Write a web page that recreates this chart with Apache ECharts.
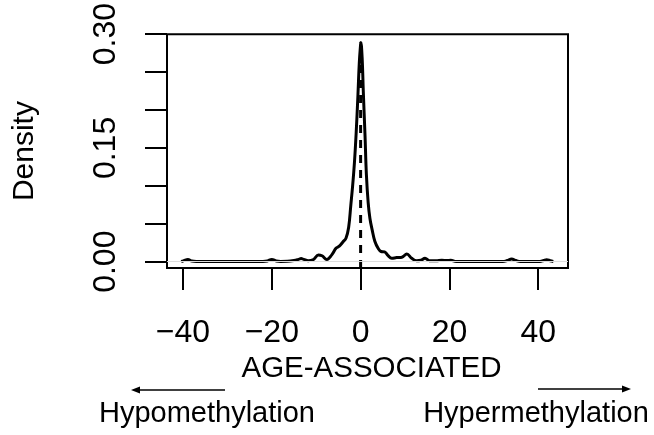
<!DOCTYPE html>
<html>
<head>
<meta charset="utf-8">
<script src="https://cdn.jsdelivr.net/npm/echarts@6/dist/echarts.min.js"></script>
<style>html,body{margin:0;padding:0;background:#fff;}#c{width:654px;height:435px;}</style>
</head>
<body>
<div id="c"></div>
<script>
// Density curve
const xValues = [-40.4,-39.8,-38.9,-38.0,-37.0,-30,-22,-21.0,-20.0,-19.0,-18.0,-16.5,-15.0,-14.0,-13.4,-12.8,-11.8,-10.6,-9.5,-8.7,-7.6,-6.5,-5.5,-4.8,-4.0,-3.3,-2.7,-2.2,-1.8,-1.4,-1.0,-0.6,-0.3,0.0,0.05,0.35,0.6,1.0,1.3,1.7,2.1,2.6,3.2,4.0,4.6,5.4,6.2,7.0,8.1,9.3,10.4,11.5,12.6,13.6,14.5,15.5,17.0,18.3,19.4,20.3,21.5,32.0,33.0,34.0,35.0,36.0,40.4,41.2,41.9,42.7,43.4];
const densityValues = [0.0003,0.0015,0.003,0.0008,0.0004,0.0004,0.0004,0.001,0.003,0.001,0.0004,0.0005,0.0015,0.003,0.0042,0.003,0.0013,0.003,0.009,0.0078,0.003,0.009,0.018,0.0205,0.026,0.031,0.045,0.075,0.100,0.130,0.170,0.220,0.262,0.287,0.289,0.268,0.225,0.165,0.115,0.078,0.057,0.042,0.027,0.017,0.0135,0.013,0.008,0.0045,0.0055,0.006,0.010,0.0045,0.0013,0.002,0.0045,0.0013,0.0012,0.002,0.0015,0.002,0.0004,0.0004,0.0015,0.0035,0.0015,0.0004,0.0004,0.0015,0.0027,0.0012,0.0004];
const xTicks = [-40,-20,0,20,40];
const yTicks = [0,0.05,0.10,0.15,0.20,0.25,0.30];
const yLabelTicks = [0,0.15,0.30];
const peakValue = 0.289;

const FONT = '"Liberation Sans", Arial, Helvetica, sans-serif';
const chart = echarts.init(document.getElementById('c'), null, {renderer:'canvas'});
const curve = xValues.map((x,i)=>[x,densityValues[i]]);
chart.setOption({
  animation:false,
  backgroundColor:'#fff',
  grid:{left:167, right:86, top:33, bottom:167, show:true, borderColor:'#000', borderWidth:2, backgroundColor:'transparent'},
  xAxis:{type:'value', min:-43.6, max:46.7,
    axisLine:{show:false, onZero:false}, splitLine:{show:false},
    axisTick:{show:true, customValues:xTicks, length:22, lineStyle:{color:'#000', width:2}},
    axisLabel:{customValues:xTicks, margin:49, color:'#000', fontSize:32, fontFamily:FONT,
      formatter:v=> (v<0? '\u2212'+Math.abs(v) : String(v))},
    name:'AGE-ASSOCIATED', nameLocation:'middle', nameGap:82,
    nameTextStyle:{color:'#000', fontSize:29.5, fontFamily:FONT, padding:[0,0,0,8]}
  },
  yAxis:{type:'value', min:-0.0083, max:0.30,
    axisLine:{show:false, onZero:false}, splitLine:{show:false},
    axisTick:{show:true, customValues:yTicks, length:22, lineStyle:{color:'#000', width:2}},
    axisLabel:{customValues:yLabelTicks, rotate:90, margin:45, color:'#000', fontSize:32, fontFamily:FONT,
      formatter:v=>v.toFixed(2)},
    name:'Density', nameLocation:'middle', nameGap:127, nameRotate:90,
    nameTextStyle:{color:'#000', fontSize:30, fontFamily:FONT}
  },
  series:[
    {type:'line', data:curve, smooth:0.4, showSymbol:false, lineStyle:{color:'#000', width:3}, z:3,
     markLine:{silent:true, symbol:'none', label:{show:false}, lineStyle:{color:'#ddd', width:1, type:'solid'}, data:[{yAxis:0}]}},
    {type:'line', data:[[0,-0.0083],[0,peakValue]], showSymbol:false, lineStyle:{color:'#000', width:3, type:[8,7]}, z:2}
  ],
  graphic:[
    {type:'line', shape:{x1:138, y1:390, x2:225, y2:390}, style:{stroke:'#000', lineWidth:1.5}},
    {type:'polygon', shape:{points:[[131,390],[140,386.5],[140,393.5]]}, style:{fill:'#000'}},
    {type:'line', shape:{x1:538, y1:389, x2:624, y2:389}, style:{stroke:'#000', lineWidth:1.5}},
    {type:'polygon', shape:{points:[[631,389],[622,385.5],[622,392.5]]}, style:{fill:'#000'}},
    {type:'text', x:207, y:414, style:{text:'Hypomethylation', fill:'#000', font:'29px '+FONT, textAlign:'center', textVerticalAlign:'middle'}},
    {type:'text', x:536, y:414, style:{text:'Hypermethylation', fill:'#000', font:'29px '+FONT, textAlign:'center', textVerticalAlign:'middle'}}
  ]
});
</script>
</body>
</html>
